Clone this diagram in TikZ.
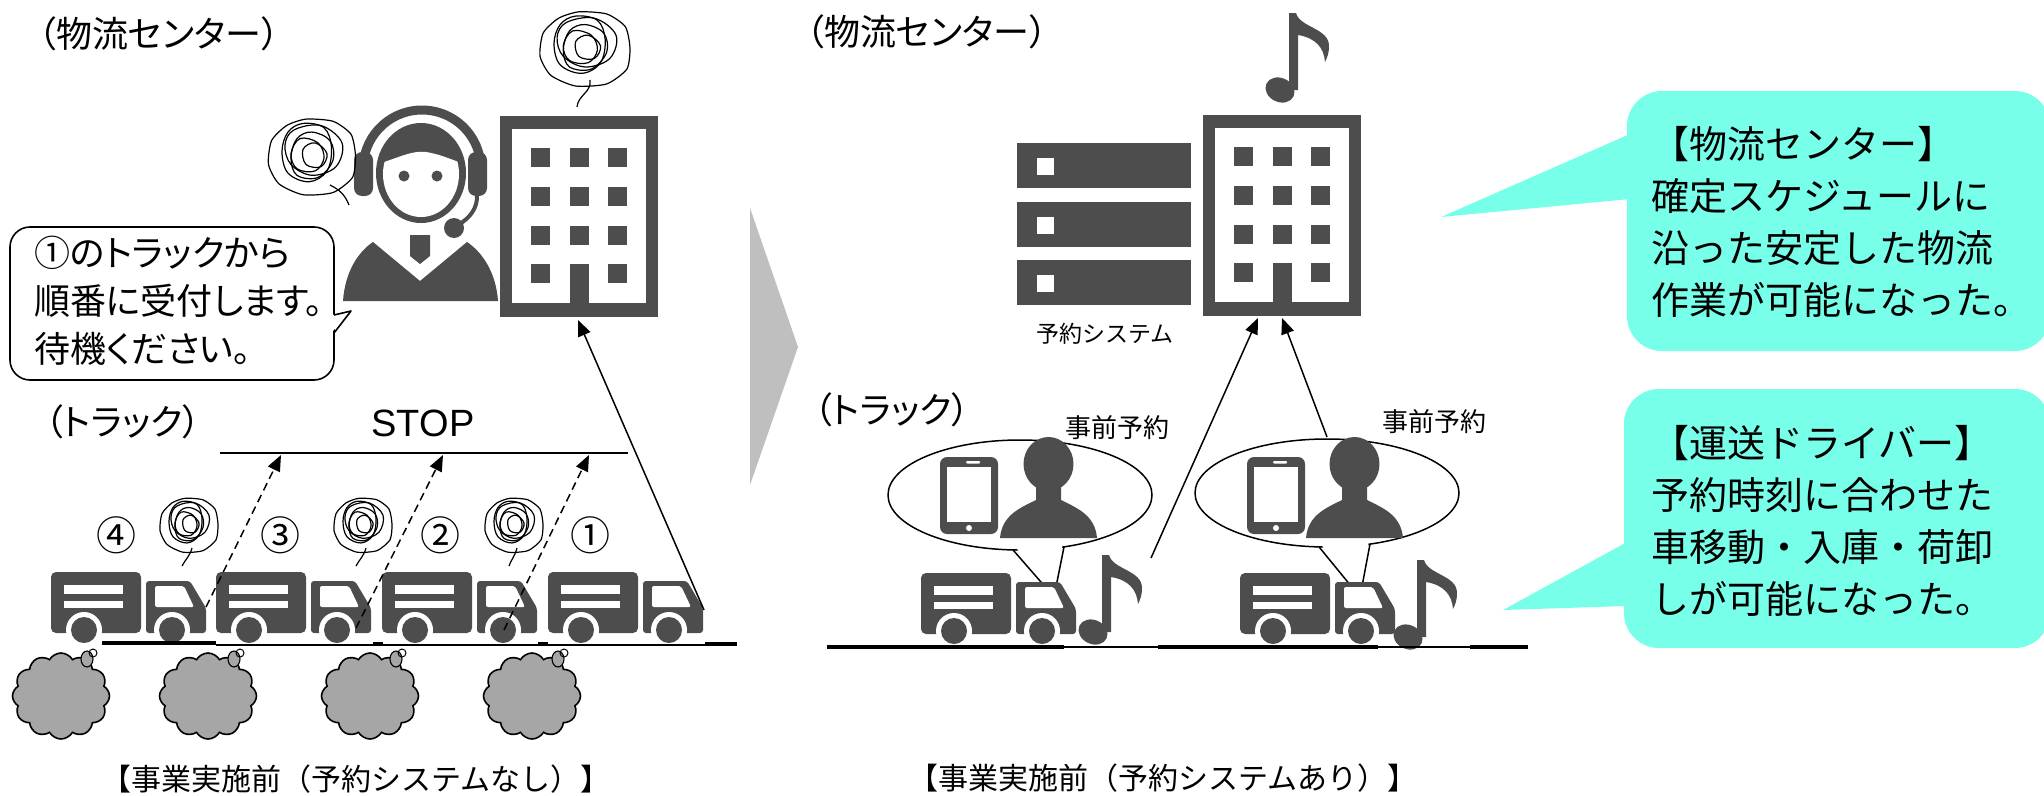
\documentclass[tikz,border=0pt]{standalone}
\usepackage{fontspec}
\setmainfont{Liberation Sans}
\newfontfamily\jp{Noto Sans CJK JP}
\newfontfamily\jpp{Noto Sans CJK JP}[RawFeature=+palt]
\usetikzlibrary{arrows.meta,shapes.symbols,calc}
\definecolor{iconc}{RGB}{77,77,77}
\definecolor{mint}{RGB}{120,255,234}
\definecolor{chev}{RGB}{191,191,191}
\definecolor{smoke}{RGB}{166,166,166}

\tikzset{
  hd/.style={font=\jpp\fontsize{36}{40}\selectfont, inner sep=0pt, anchor=west},
  captxt/.style={font=\jp\fontsize{30}{34}\selectfont, inner sep=0pt},
  smalltxt/.style={font=\jp\fontsize{26}{30}\selectfont, inner sep=0pt},
  systxt/.style={font=\jp\fontsize{23}{26}\selectfont, inner sep=0pt},
  numtxt/.style={font=\jp\fontsize{40}{44}\selectfont, inner sep=0pt},
  stoptxt/.style={font=\fontsize{38}{42}\selectfont, inner sep=0pt},
  bubtxt/.style={font=\jpp\fontsize{36}{48}\selectfont, inner sep=0pt, align=left, anchor=west},
  calltxt/.style={font=\jp\fontsize{38}{52}\selectfont, inner sep=0pt, align=left, anchor=west},
  scrib/.style={draw=black, line width=1.2pt, line join=round},
  smokecloud/.style={cloud, cloud puffs=12, cloud puff arc=120, cloud ignores aspect,
    minimum width=97pt, minimum height=86pt, inner sep=0pt,
    fill=smoke, draw=black, line width=1.6pt},
  puff/.style={fill=smoke, draw=black, line width=1.1pt},
  dasharrow/.style={line width=1.5pt, dash pattern=on 8pt off 5pt,
    -{Triangle[length=16pt,width=13pt]}},
  solidarrow/.style={line width=1.5pt, -{Triangle[length=16pt,width=13pt]}},
  bub/.style={draw=black, fill=white, line width=1.6pt},
  building/.pic={
    \fill[iconc] (0,0) rectangle (158,201);
    \fill[white] (12,13) rectangle (146,187);
    \foreach \cx in {31,70,108}{
      \foreach \ry in {32,71,110,148}{
        \fill[iconc] (\cx,\ry) rectangle ++(19,19);
      }
    }
    \fill[iconc] (70,148) rectangle (89,188);
  },
  truck/.pic={
    \fill[iconc, rounded corners=5pt] (0,0) rectangle (90,61);
    \fill[white] (13,13) rectangle (72,21.5);
    \fill[white] (13,28.5) rectangle (72,36);
    \fill[iconc, rounded corners=3pt] (95,9) -- (139,9) -- (155,36) -- (155,61) -- (95,61) -- cycle;
    \fill[white, rounded corners=2pt] (104,14) -- (133,14) -- (143,35) -- (104,35) -- cycle;
    \fill[white] (33,58) circle (18);
    \fill[white] (121,58) circle (18);
    \fill[iconc] (33,58) circle (13);
    \fill[iconc] (121,58) circle (13);
  },
  note/.pic={
    \fill[iconc, rotate=-25] (0,0) ellipse [x radius=15, y radius=12];
    \fill[iconc] (9,0) -- (9,-77) -- (16,-77) .. controls (20,-62) and (50,-62) .. (49,-43)
      .. controls (49,-37) and (47,-32) .. (45,-28)
      .. controls (44,-42) and (36,-52) .. (18,-55) -- (18,0) -- cycle;
  },
  phone/.pic={
    \fill[iconc, rounded corners=7pt] (0,0) rectangle (58,77);
    \fill[white] (7,10) rectangle (51,65);
    \fill[white, rounded corners=1pt] (26,4) rectangle (40,6.5);
    \fill[white] (29,71) circle (3);
  },
  person/.pic={
    \fill[iconc] (48.5,26) ellipse [x radius=25, y radius=27];
    \fill[iconc] (0,100) .. controls (2,77) and (20,70) .. (36,62) -- (36,48) -- (61,48)
      -- (61,62) .. controls (77,70) and (95,77) .. (97,100) -- cycle;
  },
  server/.pic={
    \foreach \k in {0,1,2}{
      \fill[iconc] (0,58.5*\k) rectangle ++(174,45);
      \fill[white] (20,58.5*\k+15) rectangle ++(17,17);
    }
  },
  scribble/.pic={
    \draw[scrib] plot[smooth cycle, tension=0.4] coordinates {(-4,-36) (14,-34) (26,-22) (29,-2) (27,18) (14,32) (-6,34) (-22,24) (-29,6) (-27,-16) (-17,-30)};
    \draw[scrib] plot[smooth cycle, tension=0.6] coordinates {(-6,-32) (8,-28) (13,-10) (10,12) (-2,22) (-16,14) (-20,-6) (-16,-24)};
    \draw[scrib] plot[smooth cycle, tension=0.6] coordinates {(0,-24) (12,-16) (14,2) (4,18) (-10,16) (-14,0) (-10,-18)};
    \draw[scrib] plot[smooth cycle, tension=0.6] coordinates {(-8,-18) (4,-14) (8,0) (2,12) (-10,10) (-14,-4)};
    \draw[scrib] plot[smooth cycle, tension=0.6] coordinates {(2,-14) (10,-4) (6,8) (-4,6) (-6,-8)};
    \draw[scrib] plot[smooth cycle, tension=0.6] coordinates {(-12,-26) (6,-30) (20,-14) (16,8) (0,16) (-14,6) (-18,-12)};
  }
}

\begin{document}
\begin{tikzpicture}[x=1pt,y=-1pt]
\useasboundingbox (0,0) rectangle (2044,795);

% ---------- left panel: before the booking system ----------
\node[hd] (hdL) at (38,34) {（物流センター）};

% operator with headset
\draw[iconc, line width=9pt] (422,169) ++(178:59) arc[start angle=178, end angle=362, radius=59];
\fill[iconc, rounded corners=8pt] (354,152) rectangle (373,196);
\fill[iconc, rounded corners=8pt] (468,152) rectangle (487,196);
\fill[iconc] (421,173) ellipse [x radius=45, y radius=50];
\begin{scope}
  \clip (421,174) ellipse [x radius=38, y radius=43];
  \fill[white] (370,166) .. controls (395,160) and (410,150) .. (426,152)
    .. controls (440,154) and (452,160) .. (470,166) -- (470,230) -- (370,230) -- cycle;
\end{scope}
\fill[iconc] (404,176) circle (5.5);
\fill[iconc] (437,176) circle (5.5);
\draw[iconc, line width=4pt] (477,194) .. controls (478,208) and (470,218) .. (458,225);
\fill[iconc] (454,228) circle (10);
\fill[iconc] (410,235) -- (430,235) -- (430,256) -- (420,264) -- (410,256) -- cycle;
\fill[iconc] (343,301) .. controls (345,272) and (358,252) .. (373,242) -- (420,281)
  -- (467,242) .. controls (482,252) and (496,272) .. (498,301) -- cycle;

% distribution centre building
\pic (bldL) at (500,116) {building};

% stress scribbles
\pic[xscale=1.55, yscale=1.06] at (585,50) {scribble};
\draw[scrib] (590,80) .. controls (592,92) and (578,95) .. (577,107);
\pic[xscale=1.5, yscale=1.08] at (312,158) {scribble};
\draw[scrib] (330,185) .. controls (340,190) and (345,195) .. (349,205);

% speech bubble of the operator
\draw[bub, rounded corners=20pt] (10,227) rectangle (334,380);
\fill[white] (332,315) -- (351,311) -- (332,332) -- cycle;
\draw[line width=1.6pt, line join=round] (334,315) -- (351,311) -- (334,333);
\node[bubtxt] (bubtext) at (34,301) {①のトラックから\\順番に受付します。\\待機ください。};

% waiting trucks
\node[hd] (trL) at (45,422) {（トラック）};
\node[stoptxt] (stop) at (423,423) {STOP};
\coordinate (stopA) at (220,453);
\coordinate (stopB) at (628,453);
\draw[line width=2pt] (stopA) -- (stopB);

\pic (truck4) at (51,572) {truck};
\pic (truck3) at (216,572) {truck};
\pic (truck2) at (382,572) {truck};
\pic (truck1) at (548,572) {truck};

\node[numtxt] (n4) at (116,535) {④};
\node[numtxt] (n3) at (280,535) {③};
\node[numtxt] (n2) at (440,535) {②};
\node[numtxt] (n1) at (590,535) {①};

\pic[xscale=1.0, yscale=0.77] at (189,526) {scribble};
\draw[scrib] (192,548) .. controls (190,556) and (185,560) .. (182,566);
\pic[xscale=1.0, yscale=0.77] at (363,526) {scribble};
\draw[scrib] (366,548) .. controls (364,556) and (359,560) .. (356,566);
\pic[xscale=1.0, yscale=0.77] at (514,526) {scribble};
\draw[scrib] (517,548) .. controls (515,556) and (511,560) .. (509,566);

% ground
\draw[line width=4pt] (102,643) -- (216,643);
\draw[line width=1.5pt] (216,645) -- (705,645);
\draw[line width=4pt] (373,644) -- (383,644);
\draw[line width=4pt] (538,644) -- (548,644);
\draw[line width=4pt] (705,644) -- (737,644);

% queue arrows
\coordinate (q4) at (206,607);
\coordinate (q3) at (356,628);
\coordinate (q2) at (504,630);
\coordinate (s4) at (281,455);
\coordinate (s3) at (443,455);
\coordinate (s2) at (589,455);
\draw[dasharrow] (q4) -- (s4);
\draw[dasharrow] (q3) -- (s3);
\draw[dasharrow] (q2) -- (s2);
\coordinate (q1) at (704,610);
\coordinate (bldLin) at (578,320);
\draw[solidarrow] (q1) -- (bldLin);

% exhaust clouds
\foreach \i/\cx in {1/61,2/208,3/370,4/532}{
  \node[smokecloud] (cloud\i) at (\cx,696) {};
  \filldraw[puff] ($(cloud\i)+(26,-37)$) ellipse [x radius=6, y radius=8];
  \draw[line width=1pt] ($(cloud\i)+(32,-43)$) circle (4);
}

\node[captxt] (capL) at (356,779) {【事業実施前（予約システムなし）】};

% ---------- transition chevron ----------
\fill[chev] (750,208) -- (798,347) -- (750,485) -- cycle;

% ---------- right panel: with the booking system ----------
\node[hd] (hdR) at (806,32) {（物流センター）};
\pic at (1280,90) {note};
\pic (srv) at (1017,143) {server};
\node[systxt] (sys) at (1105,334) {予約システム};
\pic (bldR) at (1203,115) {building};

\node[hd] (trR) at (814,410) {（トラック）};
\node[smalltxt] (rsv1) at (1117,428) {事前予約};
\node[smalltxt] (rsv2) at (1434,422) {事前予約};

% booking bubbles
\draw[line width=1.5pt] (1020,495) ellipse [x radius=132, y radius=55];
\fill[white] (1014,545) -- (1054,597) -- (1063,542) -- cycle;
\draw[line width=1.5pt, line join=round] (1013,549.9) -- (1054,597) -- (1064,546.9);
\pic at (940,457) {phone};
\pic at (1000,438) {person};

\draw[line width=1.5pt] (1327,493) ellipse [x radius=132, y radius=54];
\fill[white] (1320,543) -- (1360,597) -- (1369,540) -- cycle;
\draw[line width=1.5pt, line join=round] (1319,546.9) -- (1360,597) -- (1370,544);
\pic at (1247,457) {phone};
\pic at (1306,438) {person};

% trucks and notes
\pic (truckA) at (921,573) {truck};
\pic (truckB) at (1240,573) {truck};
\pic at (1093,632) {note};
\pic at (1408,637) {note};

\draw[line width=4pt] (827,647) -- (1064,647);
\draw[line width=2pt] (1064,647) -- (1158,647);
\draw[line width=4pt] (1158,647) -- (1378,647);
\draw[line width=2pt] (1378,647) -- (1470,647);
\draw[line width=4pt] (1470,647) -- (1528,647);

% check-in arrows
\coordinate (dA) at (1151,558);
\coordinate (dB) at (1327,437);
\coordinate (inA) at (1258,318);
\coordinate (inB) at (1282,318);
\draw[solidarrow] (dA) -- (inA);
\draw[solidarrow] (dB) -- (inB);

\node[captxt] (capR) at (1163,778) {【事業実施前（予約システムあり）】};

% ---------- result callouts ----------
\fill[mint, rounded corners=35pt] (1627,91) rectangle (2050,351);
\fill[mint] (1630,134) -- (1441,217) -- (1630,199) -- cycle;
\node[calltxt] (ct1) at (1651,222) {【物流センター】\\確定スケジュールに\\沿った安定した物流\\作業が可能になった。};

\fill[mint, rounded corners=35pt] (1624,389) rectangle (2050,648);
\fill[mint] (1627,542) -- (1503,610) -- (1627,606) -- cycle;
\node[calltxt] (ct2) at (1651,521) {【運送ドライバー】\\予約時刻に合わせた\\車移動・入庫・荷卸\\しが可能になった。};

\end{tikzpicture}
\end{document}
